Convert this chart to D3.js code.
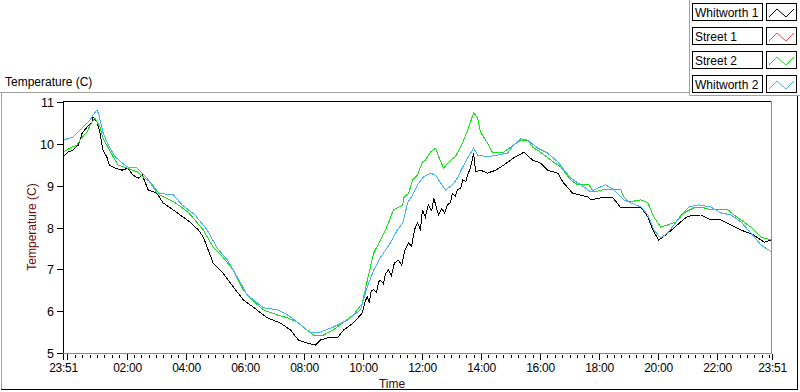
<!DOCTYPE html>
<html>
<head>
<meta charset="utf-8">
<script src="https://cdn.jsdelivr.net/npm/d3@7"></script>
<style>
  html, body { margin: 0; padding: 0; background: #fff; }
  svg { display: block; font-family: "Liberation Sans", Arial, sans-serif; }
</style>
</head>
<body>
<svg id="chart" width="800" height="392"></svg>
<script>
// ---- data (minutes since 23:51 start, temperature °C) ----
const seriesNames = ["Whitworth 1", "Street 1", "Street 2", "Whitworth 2"];
const seriesColors = ["#000000", "#ff4848", "#12e612", "#40b4f4"];

const whitworth1Time = [0,10,20,31,39,49,59,61,69,75,81,89,94,106,120,132,142,153,161,173,191,203,218,238,258,275,285,305,325,346,366,386,415,441,462,478,496,513,523,537,557,570,590,608,614,618,622,626,631,637,641,645,651,655,661,667,673,681,688,694,702,708,714,720,726,730,736,742,749,753,759,763,769,775,781,787,791,797,801,808,812,818,822,828,834,838,848,862,879,895,915,936,954,970,984,1005,1015,1035,1066,1072,1092,1117,1133,1174,1188,1198,1210,1224,1241,1259,1269,1296,1316,1336,1357,1377,1403,1424,1440];
const whitworth1Temp = [9.69,9.80,9.85,9.97,10.26,10.40,10.52,10.64,10.52,10.28,9.85,9.69,9.49,9.42,9.37,9.42,9.25,9.18,9.25,8.90,8.82,8.59,8.47,8.30,8.13,7.94,7.77,7.15,6.91,6.58,6.27,6.10,5.84,5.72,5.55,5.31,5.24,5.19,5.31,5.36,5.36,5.55,5.72,5.96,6.25,6.34,6.20,6.50,6.51,6.45,6.70,6.74,6.65,6.90,6.98,6.85,7.15,7.22,7.10,7.45,7.63,7.55,7.95,8.11,7.95,8.42,8.25,8.54,8.40,8.71,8.45,8.30,8.45,8.35,8.54,8.60,8.82,8.75,8.90,8.95,9.14,9.10,9.25,9.45,9.78,9.33,9.37,9.30,9.37,9.49,9.66,9.80,9.61,9.54,9.37,9.30,9.09,8.82,8.73,8.66,8.71,8.71,8.47,8.49,8.25,7.94,7.70,7.82,7.99,8.18,8.27,8.30,8.18,8.18,8.06,7.94,7.82,7.65,7.70];

const street1Time = [];
const street1Temp = [];

const street2Time = [0,18,28,39,49,55,65,75,81,92,102,112,130,151,163,177,197,228,254,285,305,325,346,366,380,407,435,456,476,496,509,529,549,570,590,608,618,631,645,655,661,671,690,692,702,710,720,730,736,746,757,763,773,787,797,812,818,824,834,842,848,862,873,883,895,909,930,944,954,970,991,1011,1031,1045,1068,1078,1096,1133,1139,1149,1174,1188,1200,1214,1228,1245,1261,1281,1296,1316,1351,1363,1377,1397,1418,1440];
const street2Temp = [9.80,9.92,9.97,10.16,10.28,10.45,10.62,10.40,10.14,9.90,9.69,9.49,9.42,9.33,9.21,9.09,8.78,8.59,8.37,7.94,7.53,7.29,6.98,6.51,6.31,6.03,5.91,5.84,5.74,5.55,5.43,5.43,5.55,5.74,5.91,6.19,6.74,7.39,7.70,7.94,8.11,8.42,8.54,8.71,8.82,9.14,9.25,9.57,9.61,9.80,9.90,9.69,9.42,9.61,9.69,10.04,10.21,10.40,10.74,10.62,10.28,10.02,9.78,9.80,9.80,9.92,10.09,10.09,9.92,9.80,9.61,9.45,9.14,9.02,9.02,8.85,8.90,8.90,8.73,8.61,8.66,8.59,8.25,8.01,8.06,8.13,8.35,8.47,8.49,8.42,8.42,8.30,8.18,8.01,7.77,7.70];

const whitworth2Time = [0,20,39,55,61,69,73,81,92,106,130,151,171,191,224,242,268,293,313,334,354,374,407,437,456,476,502,523,549,578,604,618,631,645,665,679,690,700,710,720,732,746,757,767,777,791,801,812,822,834,842,862,883,903,915,930,944,964,984,1005,1031,1052,1072,1086,1102,1119,1139,1153,1174,1188,1200,1214,1228,1241,1255,1271,1290,1316,1336,1357,1377,1397,1418,1440];
const whitworth2Temp = [10.09,10.16,10.38,10.57,10.69,10.81,10.69,10.28,9.97,9.69,9.45,9.42,9.18,8.82,8.78,8.54,8.30,7.94,7.51,7.22,6.82,6.39,6.08,6.03,5.91,5.74,5.48,5.50,5.62,5.79,6.03,6.58,6.98,7.29,7.63,7.94,8.11,8.59,8.78,9.02,9.21,9.30,9.25,9.06,8.90,9.02,9.18,9.45,9.66,9.90,9.73,9.69,9.73,9.78,9.97,10.12,10.09,9.90,9.78,9.57,9.18,9.02,8.85,8.94,9.02,8.90,8.66,8.59,8.49,8.30,7.94,7.75,7.87,8.06,8.30,8.49,8.54,8.49,8.35,8.30,8.13,7.87,7.58,7.41];

const xTickLabels = ["23:51","","02:00","04:00","06:00","08:00","10:00","12:00","14:00","16:00","18:00","20:00","22:00","23:51"];
const xTickMinutes = [0,9,129,249,369,489,609,729,849,969,1089,1209,1329,1440];
const yTicks = [5,6,7,8,9,10,11];

// ---- drawing ----
const svg = d3.select("#chart");
const font = "Liberation Sans, Arial, sans-serif";

const x = d3.scaleLinear().domain([0, 1440]).range([63, 772]);
const y = d3.scaleLinear().domain([5, 11]).range([353, 102]);

// outer frame
svg.append("line").attr("x1", 0).attr("x2", 690).attr("y1", 92.5).attr("y2", 92.5).attr("stroke", "#a0a0a0");
svg.append("line").attr("x1", 1.5).attr("x2", 1.5).attr("y1", 92).attr("y2", 389).attr("stroke", "#a0a0a0");
svg.append("line").attr("x1", 1).attr("x2", 798).attr("y1", 389.5).attr("y2", 389.5).attr("stroke", "#000");
svg.append("line").attr("x1", 797.5).attr("x2", 797.5).attr("y1", 95).attr("y2", 390).attr("stroke", "#000");
// legend panel border
svg.append("line").attr("x1", 689.5).attr("x2", 689.5).attr("y1", 0).attr("y2", 95).attr("stroke", "#a0a0a0");
svg.append("line").attr("x1", 689.5).attr("x2", 800).attr("y1", 95.5).attr("y2", 95.5).attr("stroke", "#a0a0a0");

// chart title
svg.append("text").attr("x", 5).attr("y", 86).attr("font-size", 12).attr("fill", "#000").text("Temperature (C)");

// plot area borders
svg.append("line").attr("x1", 63).attr("x2", 772).attr("y1", 101.5).attr("y2", 101.5).attr("stroke", "#000");
svg.append("line").attr("x1", 63.5).attr("x2", 63.5).attr("y1", 101).attr("y2", 354).attr("stroke", "#000");
svg.append("line").attr("x1", 771.5).attr("x2", 771.5).attr("y1", 101).attr("y2", 354).attr("stroke", "#8c8c8c");
svg.append("line").attr("x1", 63).attr("x2", 772).attr("y1", 353.5).attr("y2", 353.5).attr("stroke", "#8c8c8c");

// clip
svg.append("clipPath").attr("id", "plotclip").append("rect")
  .attr("x", 64).attr("y", 102).attr("width", 707).attr("height", 251);

// y axis ticks
const yAxisG = svg.append("g");
yTicks.forEach(t => {
  const yy = Math.round(y(t)) + 0.5;
  yAxisG.append("line").attr("x1", 57).attr("x2", 63).attr("y1", yy).attr("y2", yy).attr("stroke", "#000");
  yAxisG.append("text").attr("x", 54).attr("y", yy + 4.5).attr("text-anchor", "end")
    .attr("font-size", 12.5).attr("fill", "#000").text(t);
});

// x axis minor ticks every 15 min from 00:00
const minor = d3.range(9, 1440, 15);
const xAxisG = svg.append("g");
minor.forEach(m => {
  const xx = Math.round(x(m)) + 0.5;
  xAxisG.append("line").attr("x1", xx).attr("x2", xx).attr("y1", 355).attr("y2", 358).attr("stroke", "#000");
});
xTickMinutes.forEach((m, i) => {
  const xx = Math.round(x(m)) + 0.5;
  xAxisG.append("line").attr("x1", xx).attr("x2", xx).attr("y1", 354).attr("y2", 360).attr("stroke", "#000");
  if (xTickLabels[i]) {
    xAxisG.append("text").attr("x", xx).attr("y", 372).attr("text-anchor", "middle")
      .attr("font-size", 12).attr("letter-spacing", -0.3).attr("fill", "#000").text(xTickLabels[i]);
  }
});

// axis titles
svg.append("text").attr("x", 392).attr("y", 388).attr("text-anchor", "middle")
  .attr("font-size", 12).attr("fill", "#3a0a0a").text("Time");
svg.append("text").attr("transform", "translate(36,227) rotate(-90)").attr("text-anchor", "middle")
  .attr("font-size", 12).attr("fill", "#6a1010").text("Temperature (C)");

// series
const series = [
  { t: whitworth1Time, v: whitworth1Temp },
  { t: street1Time, v: street1Temp },
  { t: street2Time, v: street2Temp },
  { t: whitworth2Time, v: whitworth2Temp }
];
const line = d3.line().x(d => x(d[0])).y(d => y(d[1])).curve(d3.curveLinear);
const plotG = svg.append("g").attr("clip-path", "url(#plotclip)");
series.forEach((s, i) => {
  const pts = s.t.map((t, j) => [t, s.v[j]]);
  if (!pts.length) return;
  plotG.append("path").datum(pts).attr("d", line)
    .attr("fill", "none").attr("stroke", seriesColors[i]).attr("stroke-width", 1)
    .attr("shape-rendering", "crispEdges");
});

// legend
const legG = svg.append("g");
seriesNames.forEach((name, i) => {
  const top = 3 + i * 24;
  legG.append("rect").attr("x", 692.5).attr("y", top + 0.5).attr("width", 70).attr("height", 17)
    .attr("fill", "#fff").attr("stroke", "#000");
  legG.append("text").attr("x", 695).attr("y", top + 13.5).attr("font-size", 12).attr("fill", "#000").text(name);
  legG.append("rect").attr("x", 766.5).attr("y", top + 0.5).attr("width", 30).attr("height", 17)
    .attr("fill", "#fff").attr("stroke", "#000");
  const zz = [[2, 14], [10, 6], [19, 14], [27, 6]].map(p => [767 + p[0], top + p[1]]);
  legG.append("path").datum(zz).attr("d", d3.line())
    .attr("fill", "none").attr("stroke", seriesColors[i]).attr("stroke-width", 1);
});
</script>
</body>
</html>
